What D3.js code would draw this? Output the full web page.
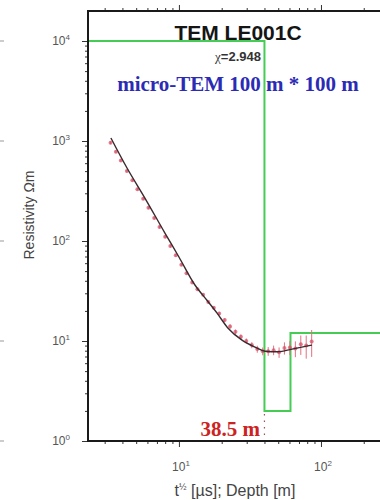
<!DOCTYPE html>
<html>
<head>
<meta charset="utf-8">
<script src="https://cdn.jsdelivr.net/npm/d3@7"></script>
<style>
  html, body { margin: 0; padding: 0; background: #fff; }
  svg { display: block; }
</style>
</head>
<body>
<div id="chart"></div>
<script>
// ---------------- DATA ----------------
// Observed apparent resistivity (t^1/2 in sqrt(µs), rho in Ωm)
const obsTime = [3.3, 3.6, 3.9, 4.3, 4.7, 5.1, 5.6, 6.1, 6.7, 7.3, 8.0, 8.7, 9.5, 10.4, 11.3, 12.4, 13.5, 14.8, 16.1, 17.6,
                 19.2, 21.0, 22.9, 25.0, 27.3, 29.8, 32.6, 35.6, 38.9, 42.5, 46.4, 50.7, 55.3, 60.4, 66.0, 72.1, 78.7, 86.0];
const obsRho  = [960, 780, 640, 500, 405, 330, 265, 215, 170, 138, 110, 89, 72, 58, 47.5, 38.5, 33, 29, 24.5, 21.5,
                 18.8, 16.2, 14.0, 12.4, 11.0, 10.0, 9.1, 8.3, 7.9, 7.9, 8.1, 7.7, 8.5, 8.6, 8.4, 9.3, 9.0, 9.9];
const obsErr  = [0.03, 0.03, 0.03, 0.03, 0.03, 0.03, 0.03, 0.03, 0.03, 0.03, 0.03, 0.03, 0.03, 0.03, 0.03, 0.03, 0.03, 0.03, 0.03, 0.03,
                 0.04, 0.04, 0.05, 0.05, 0.06, 0.06, 0.07, 0.08, 0.09, 0.10, 0.11, 0.12, 0.14, 0.16, 0.18, 0.22, 0.26, 0.30];
// Fitted (model response) curve
const fitTime = [3.32, 4.31, 5.76, 7.97, 10.0, 12.96, 15.7, 18.5, 22.1, 27.8, 34.3, 40.4, 49.8, 62.5, 86.4];
const fitRho  = [1072, 537, 269, 120, 69.2, 36.3, 25.7, 19.1, 13.5, 10.2, 8.7, 7.9, 7.8, 8.3, 9.1];
// Layered model (depth in m, resistivity in Ωm)
const layerTop = [2.29, 40, 61];
const layerRho = [10000, 2, 12];
const depthLabel = "38.5 m";
// Axis ticks
const yMajor = [1, 10, 100, 1000, 10000];
const yMajorExp = ["0", "1", "2", "3", "4"];
const xMajor = [10, 100];
const xMajorExp = ["1", "2"];
// Texts
const titleText = "TEM LE001C";
const chiText = "=2.948";
const subtitleText = "micro-TEM 100 m * 100 m";

// ---------------- LAYOUT ----------------
const W = 380, H = 500;
const L = 88, T = 11, R = 392, B = 441;
const sans = "'Liberation Sans', Arial, Helvetica, sans-serif";
const serif = "'Liberation Serif', 'Times New Roman', serif";

const svg = d3.select("#chart").append("svg")
  .attr("width", W).attr("height", H)
  .attr("viewBox", `0 0 ${W} ${H}`);

const x = d3.scaleLog().domain([2.29, 316.2]).range([L, R]);
const y = d3.scaleLog().domain([1, Math.pow(10, 4.3)]).range([B, T]);

// remnants of neighbouring panel's ticks at far left
svg.append("g").selectAll("line").data(yMajor).join("line")
  .attr("x1", 0).attr("x2", 4)
  .attr("y1", d => y(d)).attr("y2", d => y(d))
  .attr("stroke", "#999").attr("stroke-width", 1);

const clip = svg.append("defs").append("clipPath").attr("id", "plotclip");
clip.append("rect").attr("x", L).attr("y", T).attr("width", R - L).attr("height", B - T);

const plot = svg.append("g").attr("clip-path", "url(#plotclip)");

// ---------------- MODEL (green) ----------------
const modelPts = layerTop.map((d, i) => ({ d: d, r: layerRho[i] }));
modelPts.push({ d: x.domain()[1], r: layerRho[layerRho.length - 1] });
plot.append("path")
  .datum(modelPts)
  .attr("fill", "none")
  .attr("stroke", "#45cc55")
  .attr("stroke-width", 2)
  .attr("d", d3.line().x(p => x(p.d)).y(p => y(p.r)).curve(d3.curveStepAfter));

// dotted depth marker
plot.append("line")
  .attr("x1", x(layerTop[1])).attr("x2", x(layerTop[1]))
  .attr("y1", y(layerRho[1]) + 3).attr("y2", B)
  .attr("stroke", "#995555").attr("stroke-width", 1.2)
  .attr("stroke-dasharray", "1.5,5");

// ---------------- OBSERVED DATA ----------------
const obs = obsTime.map((t, i) => ({ t: t, r: obsRho[i], e: obsErr[i] }));
plot.append("g").selectAll("line").data(obs).join("line")
  .attr("x1", d => x(d.t)).attr("x2", d => x(d.t))
  .attr("y1", d => y(d.r * (1 - d.e))).attr("y2", d => y(d.r * (1 + d.e)))
  .attr("stroke", "#e07080").attr("stroke-width", 1);
plot.append("g").selectAll("circle").data(obs).join("circle")
  .attr("cx", d => x(d.t)).attr("cy", d => y(d.r)).attr("r", 2)
  .attr("fill", "#d85068").attr("fill-opacity", 0.75);

// ---------------- FIT CURVE ----------------
plot.append("path")
  .datum(fitTime.map((t, i) => ({ t: t, r: fitRho[i] })))
  .attr("fill", "none")
  .attr("stroke", "#3a2a2e")
  .attr("stroke-width", 1.4)
  .attr("d", d3.line().x(p => x(p.t)).y(p => y(p.r)).curve(d3.curveMonotoneX));

// ---------------- AXES ----------------
const yMinor = y.ticks().filter(v => yMajor.indexOf(v) < 0);
const xMinor = x.ticks().filter(v => xMajor.indexOf(v) < 0);

function styleAxis(g) {
  g.select(".domain").remove();
  g.selectAll("line").attr("stroke", "#333").attr("stroke-width", 1);
  g.selectAll("text").remove();
}
svg.append("g").attr("transform", `translate(${L},0)`)
  .call(d3.axisLeft(y).tickValues(yMinor).tickSize(3).tickFormat(""))
  .call(styleAxis);
svg.append("g").attr("transform", `translate(${L},0)`)
  .call(d3.axisLeft(y).tickValues(yMajor).tickSize(6).tickFormat(""))
  .call(styleAxis);
svg.append("g").attr("transform", `translate(0,${B})`)
  .call(d3.axisBottom(x).tickValues(xMinor).tickSize(3).tickFormat(""))
  .call(styleAxis);
svg.append("g").attr("transform", `translate(0,${B})`)
  .call(d3.axisBottom(x).tickValues(xMajor).tickSize(6).tickFormat(""))
  .call(styleAxis);
svg.append("g").attr("transform", `translate(0,${T})`)
  .call(d3.axisTop(x).tickValues(xMinor).tickSize(3).tickFormat(""))
  .call(styleAxis);
svg.append("g").attr("transform", `translate(0,${T})`)
  .call(d3.axisTop(x).tickValues(xMajor).tickSize(6).tickFormat(""))
  .call(styleAxis);

// frame
svg.append("rect")
  .attr("x", L).attr("y", T).attr("width", R - L).attr("height", B - T)
  .attr("fill", "none").attr("stroke", "#1a1a1a").attr("stroke-width", 2);

// y tick labels
yMajor.forEach((v, i) => {
  const t = svg.append("text")
    .attr("x", 70).attr("y", y(v) + 4)
    .attr("text-anchor", "end")
    .attr("font-family", sans).attr("font-size", 12).attr("fill", "#555");
  t.append("tspan").text("10");
  t.append("tspan").attr("dy", -5).attr("font-size", 8).text(yMajorExp[i]);
});
// x tick labels
xMajor.forEach((v, i) => {
  const t = svg.append("text")
    .attr("x", x(v) + 2).attr("y", 471)
    .attr("text-anchor", "middle")
    .attr("font-family", sans).attr("font-size", 12).attr("fill", "#555");
  t.append("tspan").text("10");
  t.append("tspan").attr("dy", -5).attr("font-size", 8).text(xMajorExp[i]);
});

// axis titles
svg.append("text")
  .attr("transform", "translate(34,215) rotate(-90)")
  .attr("text-anchor", "middle")
  .attr("font-family", sans).attr("font-size", 14).attr("fill", "#444")
  .text("Resistivity Ωm");

const xt = svg.append("text")
  .attr("x", 235).attr("y", 496)
  .attr("text-anchor", "middle")
  .attr("font-family", sans).attr("font-size", 16).attr("fill", "#444");
xt.append("tspan").text("t");
xt.append("tspan").attr("dy", -6).attr("font-size", 9).text("½");
xt.append("tspan").attr("dy", 6).text(" [µs]; Depth [m]");

// ---------------- TITLES ----------------
svg.append("text")
  .attr("x", 238).attr("y", 40)
  .attr("text-anchor", "middle")
  .attr("font-family", sans).attr("font-weight", "bold").attr("font-size", 21)
  .attr("fill", "#151515")
  .text(titleText);

const chi = svg.append("text")
  .attr("x", 238).attr("y", 61)
  .attr("text-anchor", "middle")
  .attr("font-family", sans).attr("font-size", 13).attr("font-weight", "bold")
  .attr("fill", "#333");
chi.append("tspan").attr("font-family", serif).attr("font-weight", "normal").text("χ");
chi.append("tspan").text(chiText);

svg.append("text")
  .attr("x", 238).attr("y", 91)
  .attr("text-anchor", "middle")
  .attr("font-family", serif).attr("font-weight", "bold").attr("font-size", 21)
  .attr("fill", "#2b2bb5")
  .text(subtitleText);

svg.append("text")
  .attr("x", 260).attr("y", 436)
  .attr("text-anchor", "end")
  .attr("font-family", serif).attr("font-weight", "bold").attr("font-size", 21)
  .attr("fill", "#cc2222")
  .text(depthLabel);
</script>
</body>
</html>
